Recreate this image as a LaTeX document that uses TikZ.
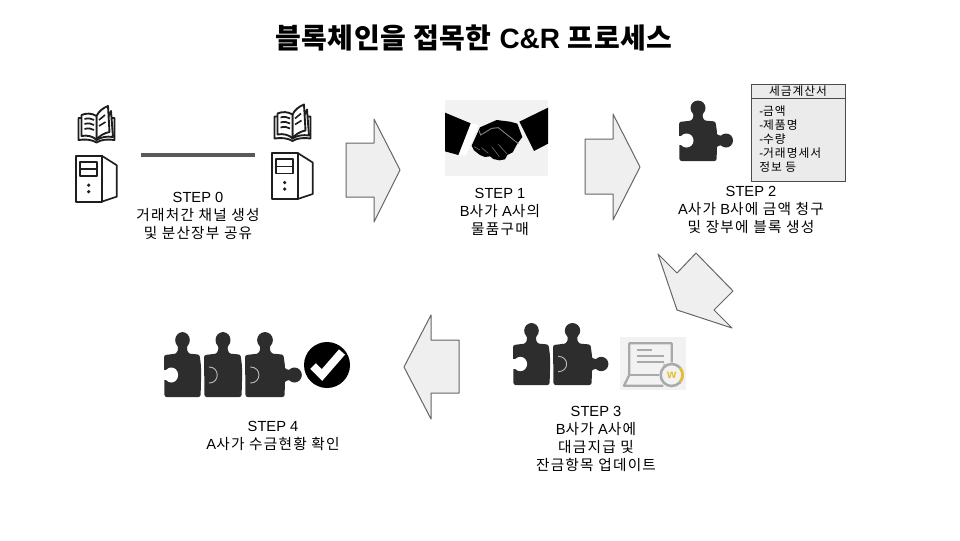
\documentclass[tikz,border=0pt]{standalone}
\usepackage{fontspec}
\setmainfont{Liberation Sans}
\newfontfamily\kfont[LetterSpace=8.5]{Noto Sans CJK KR}
\newfontfamily\ktitle[LetterSpace=2]{Noto Sans CJK KR}
\newcommand{\K}[1]{{\kfont #1}}
\newcommand{\KB}[1]{{\ktitle\bfseries #1}}
\definecolor{piececol}{HTML}{2D2D2D}
\definecolor{arrowfill}{HTML}{EFEFEF}
\definecolor{arrowline}{HTML}{666666}
\definecolor{iconline}{HTML}{1E1E1E}
\definecolor{lapgray}{HTML}{A9A9A9}
\definecolor{lapyellow}{HTML}{E8BE2E}
\tikzset{
  x=0.75pt,y=-0.75pt,
  flowarrow/.style={draw=arrowline,fill=arrowfill,line width=0.75pt,line join=round},
  steptext/.style={align=center,font=\fontsize{11}{13.5}\selectfont,inner sep=0pt,text=black},
  iconstroke/.style={draw=iconline,line width=1.4pt,line join=round,fill=white},
  lapline/.style={draw=lapgray,line width=1.7pt,line join=round},
}
% piece: #1 left, #2 top, #3 width, #4 height
\newcommand{\piecebody}[4]{%
  \begin{scope}[shift={(#1,#2)},x=#3*0.75pt/38,y=-#4*0.75pt/41]
    \fill[piececol,rounded corners=1.6pt] (0,2) -- (13,0.5) -- (25,0.5) -- (36.5,1.5) -- (38,12) -- (38,28) -- (37.5,41) -- (0.5,41) -- cycle;
    \fill[piececol] (10,1.5) .. controls (14,0) and (15,-3) .. (14,-7) -- (24,-7) .. controls (23,-3) and (24,0) .. (28,1.5) -- cycle;
    \fill[piececol] (19,-12) circle[radius=7.5];
  \end{scope}}
\newcommand{\piecehole}[4]{%
  \begin{scope}[shift={(#1,#2)},x=#3*0.75pt/38,y=-#4*0.75pt/41]
    \fill[white] (7.5,20.5) circle[radius=7];
    \fill[white] (-1,16) rectangle (4,25);
  \end{scope}}
\newcommand{\piecearc}[4]{%
  \begin{scope}[shift={(#1,#2)},x=#3*0.75pt/38,y=-#4*0.75pt/41]
    \draw[gray!55,line width=0.7pt] (5,13) .. controls (16,13) and (16,28) .. (5,28);
  \end{scope}}
\newcommand{\pieceknob}[4]{%
  \begin{scope}[shift={(#1,#2)},x=#3*0.75pt/38,y=-#4*0.75pt/41]
    \fill[piececol] (36,11) .. controls (38,15) and (40,16) .. (43,16) -- (43,25) .. controls (40,25) and (38,26) .. (36,30) -- cycle;
    \fill[piececol] (47,20.5) circle[radius=7];
  \end{scope}}
\newcommand{\bookicon}[2]{%
  \begin{scope}[shift={(#1,#2)}]
    \path[iconstroke] (1.5,13) -- (1.5,35) .. controls (8,34) and (15,34.5) .. (19.5,37.5) .. controls (24,34.5) and (31,34) .. (37.5,35) -- (37.5,13) -- cycle;
    \path[iconstroke] (34,6) -- (36,32) .. controls (30,31) and (24,32) .. (19.5,35) -- cycle;
    \path[iconstroke] (19.5,11) .. controls (22,6) and (26,3) .. (31,1) -- (32.5,27) .. controls (27,28) and (22,31) .. (19.5,35) -- cycle;
    \path[iconstroke] (19.5,11) .. controls (15,8) and (9,8) .. (4.5,10) -- (4.5,31) .. controls (10,30) and (16,31) .. (19.5,35) -- cycle;
    \foreach \ly in {14,19,24}{
      \draw[iconline,line width=1.3pt] (7.5,\ly) .. controls (11,\ly-1) and (14,\ly-1) .. (17,\ly+1);}
    \draw[iconline,line width=1.2pt] (22,15) -- (28,10) (22,21) -- (28.5,17);
  \end{scope}}
\newcommand{\servericon}[2]{%
  \begin{scope}[shift={(#1,#2)},iconstroke/.append style={line width=1.25pt}]
    \path[iconstroke] (26,0) -- (41,9.5) -- (41,41) -- (26,46) -- cycle;
    \path[iconstroke] (0,0) rectangle (26,46);
    \path[iconstroke] (4.5,6) rectangle (21.5,20.5);
    \draw[iconline,line width=1.25pt] (4.5,13.5) -- (21.5,13.5);
    \fill[iconline] (13,29.5) circle[radius=1.8] (13,36) circle[radius=1.8];
  \end{scope}}
\begin{document}
\begin{tikzpicture}
\useasboundingbox (0,0) rectangle (960,540);
\fill[white] (0,0) rectangle (960,540);

% title
\node[inner sep=0pt,font=\fontsize{21}{24}\selectfont\bfseries] (title) at (474,38) {\KB{블록체인을 접목한} C\&R \KB{프로세스}};

% step 0
\bookicon{77}{105}
\bookicon{273}{103.5}
\servericon{75.7}{155.7}
\servericon{271.7}{153}
\coordinate (linkL) at (141,155);
\coordinate (linkR) at (255,155);
\draw[draw=black!65,line width=2.4pt] (linkL) -- (linkR);
\node[steptext] (step0) at (198,216) {STEP 0\\\K{거래처간 채널 생성}\\\K{및 분산장부 공유}};

% arrows
\path[flowarrow] (346,143) -- (374,143) -- (374,119) -- (400,170) -- (374,222) -- (374,197) -- (346,197) -- cycle;
\path[flowarrow] (585,139) -- (613,139) -- (613,114) -- (640,167) -- (613,220) -- (613,194) -- (585,194) -- cycle;
\path[flowarrow] (658,254) -- (677,273) -- (696,253) -- (733,291) -- (714,310) -- (732,328) -- (677,310) -- cycle;
\path[flowarrow] (404,367) -- (431,315) -- (431,340) -- (459,340) -- (459,393) -- (431,393) -- (431,419) -- cycle;

% step 1 handshake
\begin{scope}[shift={(430,75)},x=0.25pt,y=-0.25pt]
  \fill[black!5] (45,75) rectangle (354,303);
  \fill[white] (122,145) -- (145,150) -- (108,242) -- (85,240) -- cycle;
  \fill[white] (268,140) -- (285,132) -- (330,224) -- (312,228) -- cycle;
  \fill[black] (45,113) -- (122,145) -- (85,240) -- (45,229) -- cycle;
  \fill[black] (354,98) -- (268,140) -- (312,228) -- (354,206) -- cycle;
  \fill[black] (125,212) -- (150,157) -- (200,135) -- (240,140) -- (262,146) -- (277,186) -- (262,206) -- (248,232) -- (232,240) -- (225,253) -- (208,256) -- (190,252) -- (180,244) -- (165,246) -- (150,240) -- (132,226) -- cycle;
  \draw[black!50,line width=0.7pt] (146,165) -- (152,180) -- (185,160) -- (205,158) -- (265,206);
  \draw[black!60,line width=0.5pt] (132,215) -- (150,225) (155,218) -- (175,235) (185,215) -- (208,245) (205,208) -- (232,238);
\end{scope}
\node[steptext] (step1) at (500,212) {STEP 1\\B\K{사가} A\K{사의}\\\K{물품구매}};

% step 2
\pieceknob{679}{120}{38}{41}
\piecebody{679}{120}{38}{41}
\piecehole{679}{120}{38}{41}
\draw[draw=black!70,fill=black!8,line width=0.75pt] (751,84) rectangle (845,181);
\draw[black!70,line width=0.75pt] (751,98) -- (845,98);
\node[inner sep=0pt,font=\fontsize{8.8}{10}\selectfont] (taxhead) at (798,91) {\K{세금계산서}};
\node[inner sep=0pt,align=left,anchor=north west,font=\fontsize{8.8}{10.5}\selectfont] (taxlist) at (759,106) {-\K{금액}\\-\K{제품명}\\-\K{수량}\\-\K{거래명세서}\\\K{정보 등}};
\node[steptext] (step2) at (751,210) {STEP 2\\A\K{사가} B\K{사에 금액 청구}\\\K{및 장부에 블록 생성}};

% step 3
\pieceknob{553}{343}{39}{42}
\piecebody{513}{343}{37}{42}
\piecebody{553}{343}{39}{42}
\piecehole{513}{343}{37}{42}
\piecearc{553}{343}{39}{42}
\begin{scope}[shift={(500,315)},x=0.25pt,y=-0.25pt]
  \fill[black!5] (360,65) rectangle (557,226);
  \draw[lapline] (490,150) -- (515,150) -- (515,85) -- (388,85) -- (388,180) -- (372,212) -- (490,212);
  \draw[lapline] (388,180) -- (480,180);
  \draw[lapline] (410,105) -- (455,105) (410,122) -- (492,122) (410,140) -- (492,140);
  \fill[black!5] (515,180) circle[radius=38];
  \draw[lapgray,line width=1.9pt] (515,180) circle[radius=33];
  \draw[lapyellow,line width=1.9pt] (540,158) arc[start angle=-40,end angle=40,radius=33];
\end{scope}
\node[inner sep=0pt,text=lapyellow,font=\fontsize{9}{9}\selectfont\bfseries] (wmark) at (671.7,375) {w};
\node[steptext] (step3) at (596,439) {STEP 3\\B\K{사가} A\K{사에}\\\K{대금지급 및}\\\K{잔금항목 업데이트}};

% step 4
\pieceknob{245}{353}{40}{44}
\piecebody{164}{353}{37}{44}
\piecebody{204}{353}{38}{44}
\piecebody{245}{353}{40}{44}
\piecehole{164}{353}{37}{44}
\piecearc{204}{353}{38}{44}
\piecearc{245}{353}{40}{44}
\node[circle,fill=black,minimum size=34.5pt,inner sep=0pt] (okmark) at (327,365) {};
\draw[white,line width=6pt,line cap=butt,line join=miter] (313,366) -- (322,375) -- (342,352);
\node[steptext] (step4) at (273,436) {STEP 4\\A\K{사가 수금현황 확인}};
\end{tikzpicture}
\end{document}
